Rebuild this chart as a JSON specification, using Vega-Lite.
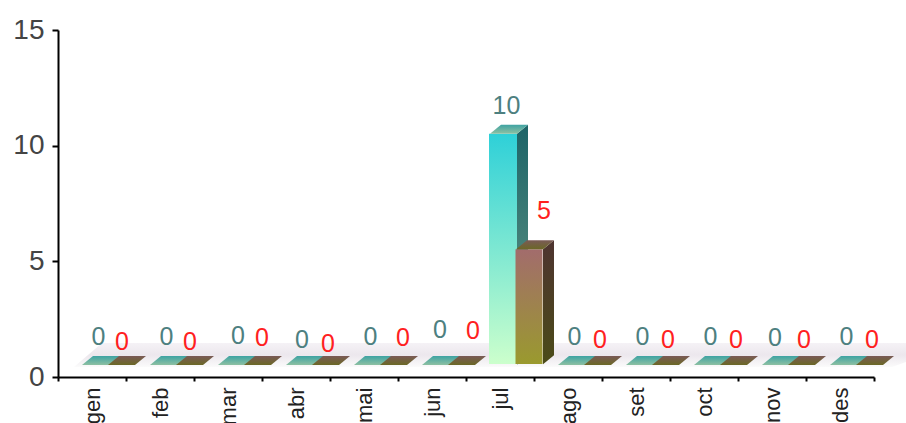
{"$schema":"https://vega.github.io/schema/vega-lite/v6.json","width":816,"height":347,"autosize":{"type":"none"},"padding":{"left":58,"top":30,"right":32,"bottom":46},"background":"white","config":{"view":{"stroke":null},"font":"Liberation Sans"},
"data":{"values":[
{"mes":"gen","serie":"A","valor":0},{"mes":"gen","serie":"B","valor":0},
{"mes":"feb","serie":"A","valor":0},{"mes":"feb","serie":"B","valor":0},
{"mes":"mar","serie":"A","valor":0},{"mes":"mar","serie":"B","valor":0},
{"mes":"abr","serie":"A","valor":0},{"mes":"abr","serie":"B","valor":0},
{"mes":"mai","serie":"A","valor":0},{"mes":"mai","serie":"B","valor":0},
{"mes":"jun","serie":"A","valor":0},{"mes":"jun","serie":"B","valor":0},
{"mes":"jul","serie":"A","valor":10},{"mes":"jul","serie":"B","valor":5},
{"mes":"ago","serie":"A","valor":0},{"mes":"ago","serie":"B","valor":0},
{"mes":"set","serie":"A","valor":0},{"mes":"set","serie":"B","valor":0},
{"mes":"oct","serie":"A","valor":0},{"mes":"oct","serie":"B","valor":0},
{"mes":"nov","serie":"A","valor":0},{"mes":"nov","serie":"B","valor":0},
{"mes":"des","serie":"A","valor":0},{"mes":"des","serie":"B","valor":0}]},
"encoding":{
"x":{"field":"mes","type":"nominal","sort":["gen","feb","mar","abr","mai","jun","jul","ago","set","oct","nov","des"],"scale":{"domain":["gen","feb","mar","abr","mai","jun","jul","ago","set","oct","nov","des"],"paddingInner":0,"paddingOuter":0},"axis":{"title":null,"labelAngle":-90,"labelAlign":"right","labelBaseline":"middle","labelFontSize":22,"labelColor":"#222222","labelPadding":6,"labelBound":false,"tickBand":"extent","tickSize":4,"tickColor":"#000000","tickWidth":2,"domainColor":"#000000","domainWidth":2,"grid":false,"labelOverlap":false}},
"y":{"field":"valor","type":"quantitative","stack":null,"scale":{"domain":[0,15],"nice":false},"axis":{"title":null,"values":[0,5,10,15],"labelFontSize":28,"labelColor":"#444444","labelPadding":8,"tickSize":6,"tickColor":"#000000","tickWidth":2,"domainColor":"#000000","domainWidth":2,"grid":false}}},
"layer":[
{"transform":[{"filter":"datum.mes=='gen'&&datum.serie=='A'"}],"mark":{"type":"point","filled":true,"opacity":1,"size":4,"strokeWidth":0,"shape":"M-18,-10 L10,-34 L814,-34 L814,-15 L800,-10 Z","fill":{"gradient":"linear","x1":0,"y1":0,"x2":0,"y2":1,"stops":[{"offset":0,"color":"#f5f2f6"},{"offset":0.5,"color":"#ece7ed"},{"offset":1,"color":"#fbfbfb"}]}}},
{"transform":[{"filter":"datum.serie=='A'&&datum.valor>0"}],"mark":{"type":"bar","size":28,"xOffset":3,"yOffset":-12,"y2Offset":-13,"fill":{"gradient":"linear","x1":0,"y1":0,"x2":0,"y2":1,"stops":[{"offset":0,"color":"#2ed0d8"},{"offset":1,"color":"#ccffcc"}]}},"encoding":{"y2":{"datum":0}}},
{"transform":[{"filter":"datum.serie=='A'&&datum.valor>0"}],"mark":{"type":"point","filled":true,"opacity":1,"size":4,"strokeWidth":0,"shape":"M17,-12 L28,-21 L28,210 L17,219 Z","fill":{"gradient":"linear","x1":0,"y1":0,"x2":0,"y2":1,"stops":[{"offset":0,"color":"#1d6468"},{"offset":1,"color":"#6b9c88"}]}}},
{"transform":[{"filter":"datum.serie=='A'"}],"mark":{"type":"point","filled":true,"opacity":1,"size":4,"strokeWidth":0,"shape":"M-10,-12 L17,-12 L28,-21 L1,-21 Z","fill":{"gradient":"linear","x1":0,"y1":0,"x2":0,"y2":1,"stops":[{"offset":0,"color":"#3ea3a3"},{"offset":1,"color":"#8dc0a2"}]}}},
{"transform":[{"filter":"datum.serie=='B'&&datum.valor>0"}],"mark":{"type":"bar","size":27,"xOffset":29,"yOffset":-12,"y2Offset":-13,"fill":{"gradient":"linear","x1":0,"y1":0,"x2":0,"y2":1,"stops":[{"offset":0,"color":"#a26c6c"},{"offset":1,"color":"#9a9a2e"}]}},"encoding":{"y2":{"datum":0}}},
{"transform":[{"filter":"datum.serie=='B'&&datum.valor>0"}],"mark":{"type":"point","filled":true,"opacity":1,"size":4,"strokeWidth":0,"shape":"M43,-12 L54,-21 L54,94 L43,103 Z","fill":{"gradient":"linear","x1":0,"y1":0,"x2":0,"y2":1,"stops":[{"offset":0,"color":"#4e3430"},{"offset":1,"color":"#4b4b18"}]}}},
{"transform":[{"filter":"datum.serie=='B'"}],"mark":{"type":"point","filled":true,"opacity":1,"size":4,"strokeWidth":0,"shape":"M16,-12 L43,-12 L54,-21 L27,-21 Z","fill":{"gradient":"linear","x1":0,"y1":0,"x2":0,"y2":1,"stops":[{"offset":0,"color":"#7a5a56"},{"offset":1,"color":"#6b6826"}]}}},
{"transform":[{"filter":"datum.serie=='A'&&indexof(['gen','feb','mai','jul','ago','set','oct','des'],datum.mes)>=0"}],"mark":{"type":"text","fontSize":25,"color":"#4d8080","dx":6.5,"dy":-40,"baseline":"middle"},"encoding":{"text":{"field":"valor","type":"quantitative"}}},
{"transform":[{"filter":"datum.serie=='A'&&datum.mes=='mar'"}],"mark":{"type":"text","fontSize":25,"color":"#4d8080","dx":10,"dy":-41,"baseline":"middle"},"encoding":{"text":{"field":"valor","type":"quantitative"}}},
{"transform":[{"filter":"datum.serie=='A'&&datum.mes=='abr'"}],"mark":{"type":"text","fontSize":25,"color":"#4d8080","dx":6,"dy":-37,"baseline":"middle"},"encoding":{"text":{"field":"valor","type":"quantitative"}}},
{"transform":[{"filter":"datum.serie=='A'&&datum.mes=='jun'"}],"mark":{"type":"text","fontSize":25,"color":"#4d8080","dx":8,"dy":-47,"baseline":"middle"},"encoding":{"text":{"field":"valor","type":"quantitative"}}},
{"transform":[{"filter":"datum.serie=='A'&&datum.mes=='nov'"}],"mark":{"type":"text","fontSize":25,"color":"#4d8080","dx":3,"dy":-39,"baseline":"middle"},"encoding":{"text":{"field":"valor","type":"quantitative"}}},
{"transform":[{"filter":"datum.serie=='B'&&indexof(['gen','feb'],datum.mes)>=0"}],"mark":{"type":"text","fontSize":25,"color":"#ff2020","dx":30,"dy":-35,"baseline":"middle"},"encoding":{"text":{"field":"valor","type":"quantitative"}}},
{"transform":[{"filter":"datum.serie=='B'&&indexof(['ago','set','oct','nov','des'],datum.mes)>=0"}],"mark":{"type":"text","fontSize":25,"color":"#ff2020","dx":32,"dy":-37,"baseline":"middle"},"encoding":{"text":{"field":"valor","type":"quantitative"}}},
{"transform":[{"filter":"datum.serie=='B'&&datum.mes=='mar'"}],"mark":{"type":"text","fontSize":25,"color":"#ff2020","dx":34,"dy":-39,"baseline":"middle"},"encoding":{"text":{"field":"valor","type":"quantitative"}}},
{"transform":[{"filter":"datum.serie=='B'&&datum.mes=='abr'"}],"mark":{"type":"text","fontSize":25,"color":"#ff2020","dx":32,"dy":-33,"baseline":"middle"},"encoding":{"text":{"field":"valor","type":"quantitative"}}},
{"transform":[{"filter":"datum.serie=='B'&&datum.mes=='mai'"}],"mark":{"type":"text","fontSize":25,"color":"#ff2020","dx":39,"dy":-39,"baseline":"middle"},"encoding":{"text":{"field":"valor","type":"quantitative"}}},
{"transform":[{"filter":"datum.serie=='B'&&datum.mes=='jun'"}],"mark":{"type":"text","fontSize":25,"color":"#ff2020","dx":41,"dy":-46,"baseline":"middle"},"encoding":{"text":{"field":"valor","type":"quantitative"}}},
{"transform":[{"filter":"datum.serie=='B'&&datum.mes=='jul'"}],"mark":{"type":"text","fontSize":25,"color":"#ff2020","dx":44,"dy":-50,"baseline":"middle"},"encoding":{"text":{"field":"valor","type":"quantitative"}}}
]}
